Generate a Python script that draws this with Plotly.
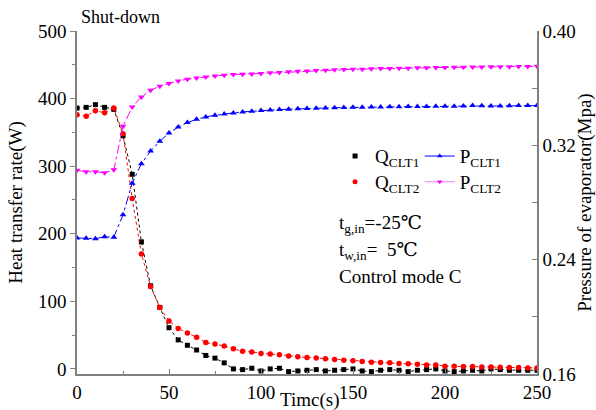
import plotly.graph_objects as go

time_s = list(range(0, 255, 5))

q_clt1 = [386, 387, 391, 387, 384, 345, 288, 188, 123, 91,
          61, 43, 35, 28, 20, 16, 9, 0, -1, 1,
          -3, 0, 1, -4, -3, -2, -1, -3, -2, -1,
          0, -3, -4, -2, -1, -2, -4, -2, -1, 0,
          -3, -4, -3, -2, -3, 0, -1, -2, -2, -2, -2]

q_clt2 = [376, 374, 382, 379, 386, 348, 252, 170, 122, 91,
          71, 60, 53, 47, 39, 37, 34, 30, 26, 25,
          23, 22, 21, 19, 18, 17, 16, 15, 14, 13,
          12, 11, 10, 9.5, 9, 8, 7.5, 7, 6, 6,
          4, 4, 3.5, 3.5, 3, 3, 2.5, 2, 2, 1.5, 1.5]

p_clt1 = [0.2552, 0.2550, 0.2547, 0.2560, 0.2557, 0.2714, 0.2935, 0.3072, 0.3160, 0.3228,
          0.3286, 0.3328, 0.3359, 0.3382, 0.3399, 0.3410, 0.3420, 0.3427, 0.3434, 0.3439,
          0.3443, 0.3447, 0.3450, 0.3453, 0.3456, 0.3458, 0.3460, 0.3462, 0.3463, 0.3465,
          0.3466, 0.3467, 0.3468, 0.3469, 0.3470, 0.3470, 0.3471, 0.3472, 0.3472, 0.3473,
          0.3473, 0.3474, 0.3475, 0.3478, 0.3477, 0.3476, 0.3476, 0.3477, 0.3478, 0.3478, 0.3478]

p_clt2 = [0.3025, 0.3015, 0.3015, 0.3008, 0.3029, 0.3333, 0.3469, 0.3539, 0.3586, 0.3614,
          0.3633, 0.3651, 0.3663, 0.3672, 0.3679, 0.3686, 0.3691, 0.3696, 0.3698, 0.3700,
          0.3703, 0.3707, 0.3710, 0.3714, 0.3718, 0.3720, 0.3724, 0.3726, 0.3728, 0.3730,
          0.3732, 0.3733, 0.3735, 0.3737, 0.3738, 0.3740, 0.3740, 0.3742, 0.3743, 0.3744,
          0.3745, 0.3746, 0.3747, 0.3748, 0.3748, 0.3749, 0.3750, 0.3750, 0.3751, 0.3752, 0.3753]

FONT = "Times New Roman, Liberation Serif, DejaVu Serif, serif"
FS = 19

fig = go.Figure()

fig.add_trace(go.Scatter(x=time_s, y=q_clt1, mode="lines+markers", showlegend=False,
                         line=dict(color="black", width=1, dash="dot"),
                         marker=dict(symbol="square", size=5, color="black")))
fig.add_trace(go.Scatter(x=time_s, y=q_clt2, mode="lines+markers", showlegend=False,
                         line=dict(color="red", width=1, dash="dot"),
                         marker=dict(symbol="circle", size=5.5, color="red")))
fig.add_trace(go.Scatter(x=time_s, y=p_clt1, mode="lines+markers", showlegend=False, yaxis="y2",
                         line=dict(color="blue", width=1, dash="dashdot"),
                         marker=dict(symbol="triangle-up", size=6, color="blue")))
fig.add_trace(go.Scatter(x=time_s, y=p_clt2, mode="lines+markers", showlegend=False, yaxis="y2",
                         line=dict(color="magenta", width=1, dash="dashdot"),
                         marker=dict(symbol="triangle-down", size=6, color="magenta")))

# legend proxies
fig.add_trace(go.Scatter(x=[None], y=[None], mode="markers", name="Q<sub>CLT1</sub>", legend="legend",
                         marker=dict(symbol="square", size=5, color="black")))
fig.add_trace(go.Scatter(x=[None], y=[None], mode="lines+markers", name="P<sub>CLT1</sub>", legend="legend2",
                         line=dict(color="blue", width=1),
                         marker=dict(symbol="triangle-up", size=5, color="blue")))
fig.add_trace(go.Scatter(x=[None], y=[None], mode="markers", name="Q<sub>CLT2</sub>", legend="legend3",
                         marker=dict(symbol="circle", size=5, color="red")))
fig.add_trace(go.Scatter(x=[None], y=[None], mode="lines+markers", name="P<sub>CLT2</sub>", legend="legend4",
                         line=dict(color="violet", width=1),
                         marker=dict(symbol="triangle-down", size=5, color="magenta")))

axis_line = dict(showline=True, linecolor="#808080", linewidth=1.5, showgrid=False,
                 zeroline=False, ticks="outside", tickcolor="#808080", ticklen=5,
                 automargin=False,
                 tickfont=dict(family=FONT, size=FS, color="black"))

legend_common = dict(xanchor="left", yanchor="middle", bgcolor="rgba(0,0,0,0)",
                     font=dict(family=FONT, size=FS, color="black"), itemwidth=30)

qx, px = 0.561, 0.745
r1, r2 = 0.635, 0.560

fig.update_layout(
    width=596, height=410,
    margin=dict(l=77, r=59, t=31, b=36),
    plot_bgcolor="white", paper_bgcolor="white",
    font=dict(family=FONT, size=FS, color="black"),
    xaxis=dict(range=[0, 250], tickvals=[0, 50, 100, 150, 200, 250], **{**axis_line, "ticks": "inside"},
               minor=dict(ticks="inside", tickvals=[25, 75, 125, 175, 225], ticklen=3, tickcolor="#808080")),
    yaxis=dict(range=[-7.5, 500], tickvals=[0, 100, 200, 300, 400, 500], **axis_line,
               title=dict(text="Heat transfer rate(W)", font=dict(family=FONT, size=FS), standoff=10),
               minor=dict(ticks="outside", tickvals=[50, 150, 250, 350, 450], ticklen=3, tickcolor="#808080")),
    yaxis2=dict(range=[0.16, 0.40], overlaying="y", side="right", tickvals=[0.16, 0.24, 0.32, 0.40],
                tickformat=".2f", **{**axis_line, "ticks": "inside"},
                title=dict(text="Pressure of evaporator(Mpa)", font=dict(family=FONT, size=FS), standoff=0),
                minor=dict(ticks="inside", tickvals=[0.20, 0.28, 0.36], ticklen=5, tickcolor="#808080")),
    legend=dict(x=qx, y=r1, **legend_common),
    legend2=dict(x=px, y=r1, **legend_common),
    legend3=dict(x=qx, y=r2, **legend_common),
    legend4=dict(x=px, y=r2, **legend_common),
    annotations=[
        dict(text="Shut-down", xref="paper", yref="paper", x=0.005, y=1.0, yshift=2,
             xanchor="left", yanchor="bottom", showarrow=False, font=dict(family=FONT, size=18)),
        dict(text="Timc(s)", xref="paper", yref="paper", x=0.505, y=0, yshift=-26,
             xanchor="center", yanchor="middle", showarrow=False, font=dict(family=FONT, size=FS)),
        dict(text="t<sub>g,in</sub>=-25℃", xref="paper", yref="paper", x=0.565, y=0.437,
             xanchor="left", yanchor="middle", showarrow=False, font=dict(family=FONT, size=FS)),
        dict(text="t<sub>w,in</sub>=  5℃", xref="paper", yref="paper", x=0.565, y=0.36,
             xanchor="left", yanchor="middle", showarrow=False, font=dict(family=FONT, size=FS)),
        dict(text="Control mode C", xref="paper", yref="paper", x=0.565, y=0.285,
             xanchor="left", yanchor="middle", showarrow=False, font=dict(family=FONT, size=FS)),
    ],
)

fig.write_html("out.html")
